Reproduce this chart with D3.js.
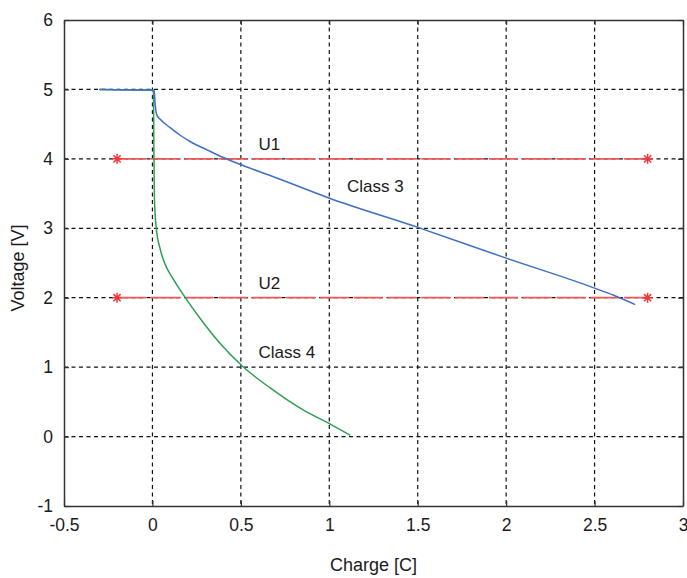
<!DOCTYPE html>
<html>
<head>
<meta charset="utf-8">
<script src="https://cdn.jsdelivr.net/npm/d3@7"></script>
<style>
  html, body { margin: 0; padding: 0; background: #fff; }
  svg { display: block; font-family: "Liberation Sans", Arial, sans-serif; }
</style>
</head>
<body>
<svg id="chart" width="687" height="578"></svg>
<script>
// ---- data ----
const class3Charge  = [-0.30, -0.01, 0.010, 0.015, 0.025, 0.044, 0.10, 0.157, 0.213, 0.308, 0.39, 0.516, 0.666, 1.005, 1.505, 2.0, 2.504, 2.608, 2.73];
const class3Voltage = [ 5.00,  4.99, 4.98,  4.80,  4.63,  4.57,  4.45, 4.34,  4.25,  4.13,  4.03, 3.90,  3.76,  3.43,  3.01,  2.57, 2.135, 2.035, 1.90];

const class4Charge  = [-0.30, 0.006, 0.008, 0.011, 0.021, 0.044, 0.072, 0.11, 0.147, 0.181, 0.27, 0.383, 0.506, 0.666, 0.854, 1.005, 1.118];
const class4Voltage = [ 5.00, 4.99,  4.20,  3.45,  3.02,  2.70,  2.48,  2.30, 2.15,  2.02,  1.70, 1.34,  1.02,  0.70,  0.38,  0.18,  0.02];

const thresholdNames   = ["U1", "U2"];
const thresholdVoltage = [4, 2];
const thresholdStart   = -0.2;
const thresholdEnd     = 2.8;

const labelText = ["U1", "Class 3", "U2", "Class 4"];
const labelX    = [0.60, 1.10, 0.60, 0.60];
const labelY    = [4.22, 3.61, 2.21, 1.22];

const xTicks = [-0.5, 0, 0.5, 1, 1.5, 2, 2.5, 3];
const yTicks = [-1, 0, 1, 2, 3, 4, 5, 6];
const xTitle = "Charge [C]";
const yTitle = "Voltage [V]";

// ---- layout ----
const svg = d3.select("#chart");
const L = 64, R = 683, T = 20, B = 506;
const x = d3.scaleLinear().domain([-0.5, 3]).range([L, R]);
const y = d3.scaleLinear().domain([-1, 6]).range([B, T]);
const fmt = d => String(d);

// grid
const grid = svg.append("g").attr("stroke", "#111").attr("stroke-width", 1.2)
  .attr("stroke-dasharray", "4,3.5");
xTicks.slice(1, -1).forEach(t => {
  grid.append("line").attr("x1", x(t)).attr("x2", x(t)).attr("y1", T).attr("y2", B);
});
yTicks.slice(1, -1).forEach(t => {
  grid.append("line").attr("x1", L).attr("x2", R).attr("y1", y(t)).attr("y2", y(t));
});

// axes (ticks inside, on all sides)
const tl = 5;
const axB = svg.append("g").attr("transform", `translate(0,${B})`)
  .call(d3.axisBottom(x).tickValues(xTicks).tickFormat(fmt).tickSizeInner(-tl).tickSizeOuter(0).tickPadding(10));
const axT = svg.append("g").attr("transform", `translate(0,${T})`)
  .call(d3.axisTop(x).tickValues(xTicks).tickFormat("").tickSizeInner(-tl).tickSizeOuter(0));
const axL = svg.append("g").attr("transform", `translate(${L},0)`)
  .call(d3.axisLeft(y).tickValues(yTicks).tickFormat(fmt).tickSizeInner(-tl).tickSizeOuter(0).tickPadding(11));
const axR = svg.append("g").attr("transform", `translate(${R},0)`)
  .call(d3.axisRight(y).tickValues(yTicks).tickFormat("").tickSizeInner(-tl).tickSizeOuter(0));
[axB, axT, axL, axR].forEach(a => {
  a.select(".domain").attr("stroke", "#333").attr("stroke-width", 1.5);
  a.selectAll(".tick line").attr("stroke", "#333").attr("stroke-width", 1.2);
  a.selectAll("text").attr("font-size", 17.5).attr("fill", "#1a1a1a")
    .attr("font-family", "'Liberation Sans', Arial, sans-serif");
});
axB.selectAll("text").attr("dy", "0.85em");

// threshold lines
thresholdVoltage.forEach(v => {
  svg.append("line")
    .attr("x1", x(thresholdStart)).attr("x2", x(thresholdEnd))
    .attr("y1", y(v)).attr("y2", y(v))
    .attr("stroke", "#ef5858").attr("stroke-width", 1.8)
    .attr("stroke-dasharray", "29,4.8");
  [thresholdStart, thresholdEnd].forEach(c => {
    const cx = x(c), cy = y(v), r = 5;
    const p = d3.path();
    p.moveTo(cx - r, cy); p.lineTo(cx + r, cy);
    p.moveTo(cx, cy - r); p.lineTo(cx, cy + r);
    const d = r * 0.72;
    p.moveTo(cx - d, cy - d); p.lineTo(cx + d, cy + d);
    p.moveTo(cx - d, cy + d); p.lineTo(cx + d, cy - d);
    svg.append("path").attr("d", p.toString())
      .attr("stroke", "#f03838").attr("stroke-width", 1.5).attr("fill", "none");
  });
});

// curves
const line = d3.line().x(d => x(d[0])).y(d => y(d[1])).curve(d3.curveMonotoneX);
svg.append("path")
  .datum(class4Charge.map((c, i) => [c, class4Voltage[i]]))
  .attr("d", line).attr("fill", "none")
  .attr("stroke", "#2f9e55").attr("stroke-width", 1.5);
svg.append("path")
  .datum(class3Charge.map((c, i) => [c, class3Voltage[i]]))
  .attr("d", line).attr("fill", "none")
  .attr("stroke", "#3d6fc6").attr("stroke-width", 1.5);

// annotations
labelText.forEach((t, i) => {
  svg.append("text").attr("x", x(labelX[i])).attr("y", y(labelY[i]))
    .attr("dy", "0.36em").attr("font-size", 17).attr("fill", "#1a1a1a").text(t);
});

// axis titles
svg.append("text").attr("x", (L + R) / 2).attr("y", 565).attr("dy", "0.36em")
  .attr("text-anchor", "middle").attr("font-size", 18).attr("fill", "#1a1a1a").text(xTitle);
svg.append("text").attr("transform", `translate(18,268) rotate(-90)`).attr("dy", "0.36em")
  .attr("text-anchor", "middle").attr("font-size", 18).attr("fill", "#1a1a1a").text(yTitle);
</script>
</body>
</html>
